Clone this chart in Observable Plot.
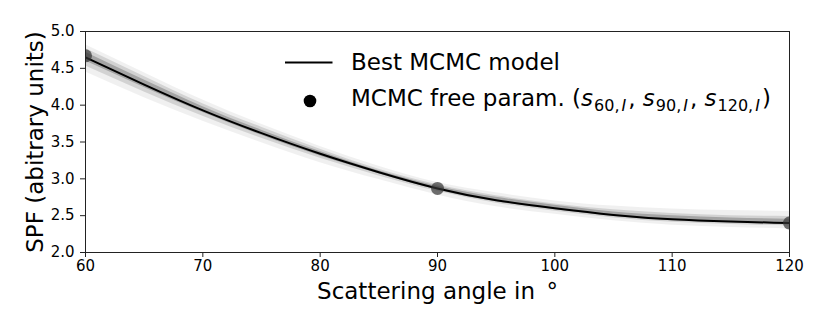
<!DOCTYPE html>
<html>
<head>
<meta charset="utf-8">
<script src="https://cdn.jsdelivr.net/npm/d3@7"></script>
<script src="https://cdn.jsdelivr.net/npm/@observablehq/plot@0.6"></script>
<style>
  html, body { margin: 0; padding: 0; background: #fff; }
  #wrap { position: relative; width: 830px; height: 332px; font-family: "DejaVu Sans", sans-serif; }
  #legend { position: absolute; left: 0; top: 0; pointer-events: none; }
</style>
</head>
<body>
<div id="wrap"></div>
<script>
// ---- data ----
const angles     = [60, 65, 70, 75, 80, 85, 90, 95, 100, 105, 110, 115, 120];
const bestModel  = [4.65, 4.28, 3.93, 3.62, 3.34, 3.09, 2.87, 2.71, 2.60, 2.51, 2.45, 2.42, 2.40];
// spread of the MCMC sample curves (outer, middle, inner envelopes)
const outerLo = [4.45, 4.10, 3.78, 3.49, 3.22, 2.99, 2.78, 2.62, 2.52, 2.43, 2.37, 2.34, 2.32];
const outerHi = [4.82, 4.44, 4.07, 3.74, 3.44, 3.17, 2.95, 2.81, 2.70, 2.63, 2.59, 2.57, 2.56];
const midLo   = [4.53, 4.18, 3.85, 3.55, 3.28, 3.04, 2.83, 2.67, 2.56, 2.47, 2.41, 2.38, 2.36];
const midHi   = [4.77, 4.39, 4.02, 3.70, 3.40, 3.13, 2.92, 2.77, 2.66, 2.58, 2.53, 2.50, 2.49];
const innerLo = [4.60, 4.24, 3.90, 3.59, 3.31, 3.07, 2.85, 2.69, 2.58, 2.49, 2.43, 2.40, 2.38];
const innerHi = [4.72, 4.34, 3.98, 3.66, 3.37, 3.11, 2.90, 2.75, 2.64, 2.55, 2.50, 2.47, 2.45];
const freeParamAngles = [60, 90, 120];
const freeParamValues = [4.67, 2.87, 2.40];
const xTicks = [60, 70, 80, 90, 100, 110, 120];
const yTicks = [2.0, 2.5, 3.0, 3.5, 4.0, 4.5, 5.0];
const xLabel = "Scattering angle in\u2002°";
const yLabel = "SPF (abitrary units)";
const legendBest = "Best MCMC model";
const legendFree = "MCMC free param. (";
const legendSubs = ["60", "90", "120"];

const table = angles.map((a, i) => ({
  a, best: bestModel[i],
  oLo: outerLo[i], oHi: outerHi[i],
  mLo: midLo[i], mHi: midHi[i],
  iLo: innerLo[i], iHi: innerHi[i]
}));
const pts = freeParamAngles.map((a, i) => ({a, v: freeParamValues[i]}));

const FONT = "DejaVu Sans";
const chart = Plot.plot({
  width: 830,
  height: 332,
  marginLeft: 85,
  marginRight: 41,
  marginTop: 31,
  marginBottom: 80,
  style: {fontFamily: FONT, fontSize: "15px", color: "#000", background: "#fff"},
  x: {domain: [60, 120]},
  y: {domain: [2, 5]},
  marks: [
    Plot.areaY(table, {x: "a", y1: "oLo", y2: "oHi", fill: "#000", fillOpacity: 0.06, curve: "natural", clip: true}),
    Plot.areaY(table, {x: "a", y1: "mLo", y2: "mHi", fill: "#000", fillOpacity: 0.12, curve: "natural", clip: true}),
    Plot.areaY(table, {x: "a", y1: "iLo", y2: "iHi", fill: "#000", fillOpacity: 0.22, curve: "natural", clip: true}),
    Plot.line(table, {x: "a", y: "best", stroke: "#000", strokeWidth: 2, curve: "natural", clip: true}),
    Plot.dot(pts, {x: "a", y: "v", r: 6.5, fill: "#333", fillOpacity: 0.7, stroke: "none", clip: true}),
    Plot.frame({stroke: "#222", strokeWidth: 1}),
    Plot.axisX({ticks: xTicks, tickSize: 5, tickPadding: 3, label: null, fontSize: 15, stroke: "#222"}),
    Plot.axisY({ticks: yTicks, tickSize: 5, tickPadding: 6, label: null, fontSize: 15, stroke: "#222", tickFormat: d3.format(".1f")}),
    Plot.text([xLabel], {text: d => d, frameAnchor: "bottom", textAnchor: "middle", lineAnchor: "middle", dy: 39, fontSize: 23, fill: "#000"}),
    Plot.text([yLabel], {text: d => d, frameAnchor: "left", textAnchor: "middle", rotate: -90, lineAnchor: "middle", dx: -50, fontSize: 23, fill: "#000"})
  ]
});
const wrap = document.getElementById("wrap");
wrap.appendChild(chart);

// ---- legend (overlay) ----
const leg = d3.select(wrap).append("svg")
  .attr("id", "legend").attr("width", 830).attr("height", 332)
  .style("font-family", FONT);
leg.append("line").attr("x1", 285).attr("x2", 332.5).attr("y1", 62.5).attr("y2", 62.5)
  .attr("stroke", "#000").attr("stroke-width", 2);
leg.append("text").attr("x", 351).attr("y", 69.5).attr("font-size", 23).text(legendBest);
leg.append("circle").attr("cx", 310).attr("cy", 101).attr("r", 6.3).attr("fill", "#000");
const t2 = leg.append("text").attr("x", 351).attr("y", 106).attr("font-size", 23);
t2.append("tspan").text(legendFree);
legendSubs.forEach((s, i) => {
  t2.append("tspan").attr("font-style", "italic").text("s");
  t2.append("tspan").attr("font-size", 16).attr("dy", 5).attr("dx", 1).text(s + ",");
  t2.append("tspan").attr("font-size", 16).attr("font-style", "italic").attr("dx", 2).text("I");
  t2.append("tspan").attr("dy", -5).attr("dx", 2).text(i < legendSubs.length - 1 ? ",\u00a0" : ")");
});
</script>
</body>
</html>
